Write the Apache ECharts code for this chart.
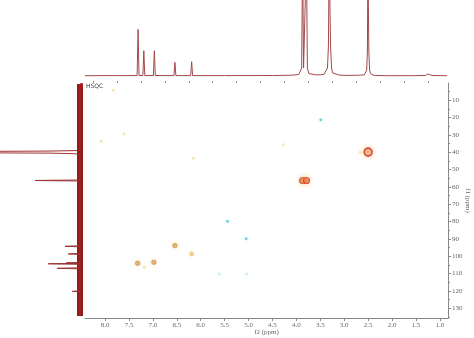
<!DOCTYPE html>
<html><head><meta charset="utf-8">
<script src="https://cdn.jsdelivr.net/npm/echarts@6/dist/echarts.min.js"></script>
<style>html,body{margin:0;padding:0;background:#fff}#c{width:474px;height:338px}</style>
</head><body><div id="c"></div>
<script>
// f2 (1H) tick labels and f1 (13C) tick labels
const xTicks = [8.0, 7.5, 7.0, 6.5, 6.0, 5.5, 5.0, 4.5, 4.0, 3.5, 3.0, 2.5, 2.0, 1.5, 1.0];
const xMinor = [8.25, 7.75, 7.25, 6.75, 6.25, 5.75, 5.25, 4.75, 4.25, 3.75, 3.25, 2.75, 2.25, 1.75, 1.25];
const yTicks = [10, 20, 30, 40, 50, 60, 70, 80, 90, 100, 110, 120, 130];
const yMinor = [5, 15, 25, 35, 45, 55, 65, 75, 85, 95, 105, 115, 125, 135];

// 1H projection trace [ppm, intensity]
const hTrace = [
  [8.42, 0.3], [7.80, 0.4], [7.50, 0.4], [7.33, 0.5], [7.31, 46.7], [7.29, 0.5],
  [7.21, 0.5], [7.19, 25.3], [7.17, 0.5], [6.99, 0.5], [6.97, 25.3], [6.95, 0.5],
  [6.56, 0.4], [6.54, 13.7], [6.52, 0.4], [6.21, 0.4], [6.19, 14.3], [6.17, 0.4],
  [5.50, 0.4], [4.50, 0.5], [4.10, 0.8], [3.95, 1.5], [3.89, 8], [3.87, 120],
  [3.85, 8], [3.83, 6], [3.81, 8], [3.79, 120], [3.77, 8], [3.74, 2.5], [3.72, 3],
  [3.70, 2], [3.60, 1.2], [3.50, 1.2], [3.42, 1.8], [3.38, 3], [3.35, 8], [3.33, 30],
  [3.315, 120], [3.30, 120], [3.285, 30], [3.265, 8], [3.24, 3], [3.20, 1.5],
  [3.10, 0.8], [2.90, 0.6], [2.70, 0.8], [2.67, 2], [2.64, 0.9], [2.58, 1.2],
  [2.55, 2.5], [2.53, 6], [2.515, 25], [2.505, 120], [2.495, 120], [2.485, 25],
  [2.47, 6], [2.45, 2.5], [2.40, 1], [2.34, 0.5], [2.32, 2], [2.30, 0.4],
  [2.11, 0.3], [2.09, 1], [2.07, 0.3], [1.60, 0.3], [1.30, 0.5], [1.25, 2],
  [1.23, 3], [1.21, 2], [1.17, 0.5], [0.85, 0.3]
];

// 13C projection trace [intensity, ppm]
const cTrace = [
  [0, 0.6], [0, 39.0], [30, 39.3], [140, 39.6], [200, 39.9], [140, 40.2], [30, 40.5],
  [7, 40.8], [0, 41.2], [0, 56.0], [45, 56.3], [0, 56.6], [0, 94.0], [15, 94.3],
  [0, 94.6], [0, 98.4], [11.7, 98.7], [0, 99.0], [0, 103.6], [14, 103.9], [0, 104.15],
  [31.7, 104.4], [0, 104.7], [0, 106.7], [22.7, 107.0], [0, 107.3], [0, 120.0],
  [7.7, 120.3], [0, 120.6], [0, 134.5]
];
const cNoise = [[0, 0.6], [0, 134.5]];

// HSQC cross peaks: 1H ppm, 13C ppm, relative (signed) intensity
const cpH = [2.50, 3.87, 3.79, 7.32, 7.18, 6.98, 6.54, 6.19, 5.44, 5.05, 5.61, 5.04, 3.49, 2.67, 4.27, 7.60, 8.08, 7.83, 6.15];
const cpC = [39.9, 56.3, 56.3, 104.1, 106.4, 103.5, 93.9, 98.7, 79.8, 90.0, 110.2, 110.2, 21.2, 40.0, 35.6, 29.3, 33.7, 4.2, 43.4];
const cpI = [10, 7, 7, 4, 1.5, 3.5, 4.5, 2.5, -2, -2, -0.8, -0.8, -1.5, 1.2, 1.2, 1.2, 0.6, 0.6, 0.6];

function peakStyle(v) {
  if (v >= 8) return {s: 8, c: '#f6a27c', b: '#d22a18', w: 1.6, g: 'rgba(245,200,120,0.7)'};
  if (v >= 5) return {s: 6, c: '#f0764a', b: '#d83a1e', w: 1.2, g: 'rgba(245,200,120,0.7)'};
  if (v >= 3.5) return {s: 4.5, c: '#dca060', b: '#c88838', w: 0.8, g: 'rgba(245,215,140,0.7)'};
  if (v >= 2) return {s: 4, c: '#f0c878', b: '#e8b458', w: 0.6, g: 'rgba(248,230,160,0.7)'};
  if (v > 0) return {s: 3, c: '#f4e2a4', b: '#f4e2a4', w: 0, g: 'rgba(250,240,190,0.6)'};
  if (v <= -1.5) return {s: 3, c: '#52c8d2', b: '#52c8d2', w: 0, g: 'rgba(170,230,236,0.7)'};
  return {s: 2.5, c: '#b8e6ec', b: '#b8e6ec', w: 0, g: 'rgba(200,240,244,0.6)'};
}

const cpData = cpH.map((h, i) => {
  const st = peakStyle(cpI[i]);
  return {
    value: [h, cpC[i], cpI[i]],
    symbolSize: st.s,
    itemStyle: {color: st.c, borderColor: st.b, borderWidth: st.w, shadowBlur: 5, shadowColor: st.g}
  };
});

const X0 = 0.83, X1 = 8.42, Y0 = 0, Y1 = 135.7;
const lbl = {fontFamily: 'Liberation Serif', fontSize: 7, color: '#666'};

const chart = echarts.init(document.getElementById('c'), null, {renderer: 'canvas'});
chart.setOption({
  animation: false,
  backgroundColor: '#fff',
  legend: {
    left: 80, top: 83, itemWidth: 3, itemHeight: 6, itemGap: 2, padding: 0,
    icon: 'rect', selectedMode: false,
    textStyle: {fontFamily: 'DejaVu Sans', fontSize: 6, color: '#444', padding: [0, 0, 0, -2]},
    data: [{name: 'HSQC', itemStyle: {color: '#b01c1c'}}]
  },
  grid: [
    {left: 85, right: 26, top: 83, bottom: 20, containLabel: false, outerBoundsMode: 'none'},
    {left: 85, right: 26, top: 0, height: 78, containLabel: false, outerBoundsMode: 'none'},
    {left: 0, width: 84, top: 83, bottom: 20, containLabel: false, outerBoundsMode: 'none'}
  ],
  xAxis: [
    {gridIndex: 0, type: 'value', min: X0, max: X1, inverse: true,
     name: 'f2 (ppm)', nameLocation: 'middle', nameGap: 11, nameMoveOverlap: false,
     nameTextStyle: lbl,
     axisLine: {show: true, onZero: false, lineStyle: {color: '#888', width: 1}},
     axisTick: {show: true, length: 3, customValues: xTicks, lineStyle: {color: '#888'}},
     axisLabel: Object.assign({margin: 4, customValues: xTicks, formatter: v => v.toFixed(1)}, lbl),
     splitLine: {show: false}},
    {gridIndex: 0, type: 'value', min: X0, max: X1, inverse: true,
     axisLine: {show: false}, axisLabel: {show: false}, splitLine: {show: false},
     axisTick: {show: true, length: 2, customValues: xMinor, lineStyle: {color: '#888'}}},
    {gridIndex: 1, type: 'value', min: X0, max: X1, inverse: true, show: false},
    {gridIndex: 2, type: 'value', min: -4, max: 80, inverse: true, show: false}
  ],
  yAxis: [
    {gridIndex: 0, type: 'value', min: Y0, max: Y1, inverse: true, position: 'right',
     name: 'f1 (ppm)', nameLocation: 'middle', nameGap: 16, nameRotate: -90, nameMoveOverlap: false,
     nameTextStyle: lbl,
     axisLine: {show: true, onZero: false, lineStyle: {color: '#888', width: 1}},
     axisTick: {show: true, length: 3, customValues: yTicks, lineStyle: {color: '#888'}},
     axisLabel: Object.assign({margin: 4, customValues: yTicks}, lbl),
     splitLine: {show: false}},
    {gridIndex: 0, type: 'value', min: Y0, max: Y1, inverse: true, position: 'right',
     axisLine: {show: false}, axisLabel: {show: false}, splitLine: {show: false},
     axisTick: {show: true, length: 2, customValues: yMinor, lineStyle: {color: '#888'}}},
    {gridIndex: 1, type: 'value', min: -2, max: 76, show: false},
    {gridIndex: 2, type: 'value', min: Y0, max: Y1, inverse: true, show: false}
  ],
  series: [
    {name: 'HSQC', type: 'scatter', xAxisIndex: 0, yAxisIndex: 0, symbol: 'circle',
     data: cpData, z: 5},
    {name: '1H', type: 'line', xAxisIndex: 2, yAxisIndex: 2, data: hTrace,
     showSymbol: false, clip: true, lineStyle: {color: '#a3484c', width: 1}},
    {name: '13Cnoise', type: 'line', xAxisIndex: 3, yAxisIndex: 3, data: cNoise,
     showSymbol: false, clip: true, lineStyle: {color: '#921a1a', width: 6}},
    {name: '13C', type: 'line', xAxisIndex: 3, yAxisIndex: 3, data: cTrace,
     showSymbol: false, clip: true, lineStyle: {color: '#9c3030', width: 1}}
  ]
});
</script></body></html>
